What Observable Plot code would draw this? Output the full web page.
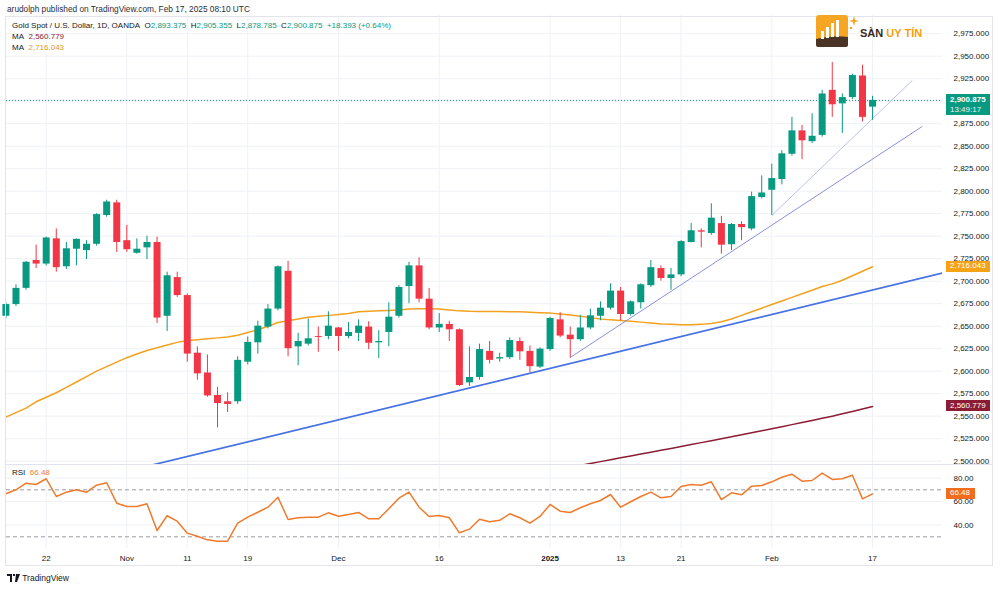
<!DOCTYPE html>
<html><head><meta charset="utf-8">
<script src="https://cdn.jsdelivr.net/npm/d3@7"></script>
<script src="https://cdn.jsdelivr.net/npm/@observablehq/plot@0.6"></script>
<style>
body{margin:0;background:#fff;font-family:"Liberation Sans",Arial,sans-serif;}
#wrap{position:relative;width:1000px;height:590px;overflow:hidden;background:#fff;}
.abs{position:absolute;white-space:nowrap;line-height:1;}
</style></head><body><div id="wrap"></div>
<script>
// ---------- DATA ----------
const dates = ["Oct 16","Oct 17","Oct 18","Oct 21","Oct 22","Oct 23","Oct 24","Oct 25","Oct 28","Oct 29","Oct 30","Oct 31","Nov 1","Nov 4","Nov 5","Nov 6","Nov 7","Nov 8","Nov 11","Nov 12","Nov 13","Nov 14","Nov 15","Nov 18","Nov 19","Nov 20","Nov 21","Nov 22","Nov 25","Nov 26","Nov 27","Nov 28","Nov 29","Dec 2","Dec 3","Dec 4","Dec 5","Dec 6","Dec 9","Dec 10","Dec 11","Dec 12","Dec 13","Dec 16","Dec 17","Dec 18","Dec 19","Dec 20","Dec 23","Dec 24","Dec 26","Dec 27","Dec 30","Dec 31","Jan 2","Jan 3","Jan 6","Jan 7","Jan 8","Jan 9","Jan 10","Jan 13","Jan 14","Jan 15","Jan 16","Jan 17","Jan 20","Jan 21","Jan 22","Jan 23","Jan 24","Jan 27","Jan 28","Jan 29","Jan 30","Jan 31","Feb 3","Feb 4","Feb 5","Feb 6","Feb 7","Feb 10","Feb 11","Feb 12","Feb 13","Feb 14","Feb 17"];
const open = [2661,2674,2692,2723,2719,2747,2716,2735.5,2734,2741,
  2773,2787,2745,2731,2737,2743,2661,2704,2684,2620,
  2598,2573,2566,2566,2610,2631.5,2649,2669,2711,2627,
  2630,2638.5,2638.5,2648,2638.5,2642,2649,2631.5,2643,2661,
  2694,2717,2680,2648,2652,2646,2587,2593,2622,2613.5,
  2615,2633,2622,2604.5,2624,2657,2640,2635,2648,2661,
  2670,2689,2663,2676,2695,2714,2703,2707,2743,2756,
  2753,2764,2740.5,2763,2758,2793,2801,2813,2841,2867,
  2855,2862,2912,2897,2904,2928,2893.375];
const high = [2676,2696,2722,2740,2749,2758,2743,2747,2745,2775,
  2790,2790,2762,2747,2750,2749,2710,2710,2686,2627,
  2618,2582,2576,2616,2638,2655.5,2674,2717,2722,2642,
  2658,2649,2666,2648.5,2654,2657,2655,2645,2676,2695,
  2721,2726,2692,2664,2655.5,2647,2627,2630,2633,2620,
  2637,2637,2628,2626,2660,2665,2649,2662,2669,2677,
  2697,2693,2678,2697,2723,2717,2714,2745,2764,2758,
  2786,2772,2764,2766,2799,2817,2830,2845,2882,2873,
  2886,2912,2943,2908,2930,2940,2905.355];
const low = [2658,2672,2690,2714,2717,2710,2713,2717,2724,2739,
  2771,2732,2732,2730,2724,2653,2644,2682,2610,2590,
  2571,2537,2554,2563,2607,2619,2647,2667,2616,2606,
  2628,2621,2635,2622,2636,2633,2624,2614,2627,2659,
  2675,2676,2646,2643,2633,2583,2583,2590,2608,2610,
  2613,2612,2598,2603,2622,2637,2615,2633,2646,2656,
  2668,2656,2661,2669,2693,2700,2690,2705,2742.5,2737,
  2751,2730,2734,2745,2756,2791.5,2773,2807,2839,2835,
  2853,2860,2882,2864,2902,2877,2878.785];
const close = [2674,2692,2721,2719,2748,2715,2736,2746.5,2741,2774,
  2788,2743,2735,2735.5,2743,2659,2706,2684,2619,2597,
  2572.5,2564,2563,2612,2632,2650,2669,2716,2625,2633,
  2636,2637.5,2650,2638.5,2643,2650,2631,2633,2660,2693,
  2717,2680,2648,2652,2646,2584,2593,2624,2612,2615,
  2634,2621.5,2605,2624.5,2658.5,2639,2635,2648,2661.5,2670,
  2689,2663,2677,2696,2715,2703,2707,2744,2756,2754.5,
  2770,2740,2763,2759.5,2794,2798,2814,2841.5,2867,2856,
  2861,2908,2896,2904,2928.5,2882,2900.875];
// MA (orange, 2,716.043 at the end), one value per bar
const maOrange = [2549,2554,2559,2566,2571,2576,2582,2588,2594,2600,
  2605,2610,2615,2619,2623,2626,2629,2632,2634,2635,
  2636,2637,2638,2640,2643,2646,2650,2654,2656,2658,
  2660,2661,2662,2663,2664,2666,2666.5,2667,2667.5,2668,
  2669,2669.3,2669.3,2669,2668,2667,2666.5,2666.3,2666.3,2666.2,
  2666,2666,2665.5,2665,2664.5,2663.5,2662.5,2661,2659.5,2658,
  2657,2656.3,2655.5,2654.5,2653.5,2652.5,2652,2651.5,2651.5,2652,
  2653,2655,2658,2662,2666,2670,2674,2678,2682,2686,
  2690,2694,2697,2701,2706,2711,2716.043];
// MA (dark red, 2,560.779 at the end), bars from "Jan 3" on
const maRedFrom = "Jan 3";
const maRed = [2491.0,2493.2,2495.3,2497.4,2499.5,2501.6,2503.7,2505.8,2507.9,2510.0,
  2512.1,2514.2,2516.3,2518.4,2520.6,2522.8,2525.0,2527.2,2529.4,2531.6,
  2533.8,2536.0,2538.3,2540.6,2542.9,2545.2,2547.6,2550.0,2552.6,2555.2,
  2558.0,2560.779];
const rsi = [66.6,70,75.6,74.5,79.4,64.3,68,70,68,73.9,
  76,58.6,55.8,55.8,58.1,35.4,47.9,43.3,33.1,30.5,
  27.4,26.3,26.3,41.6,46.7,50.9,55.2,63.7,44.7,46.2,
  46.7,46.7,50.4,47.5,49,50.7,45.3,45.3,53.8,62.9,
  68,55.2,47.3,48.1,46.2,33.4,36.5,45,42.8,44,
  49.6,46.2,41.6,47.3,57.5,51.8,50.7,54.7,58.1,60.9,
  66,55.2,59.8,64.3,68,63.2,64.3,72.8,74.5,73.9,
  76.8,61.7,67.4,65.7,73.1,73.7,76.8,80.7,83.3,77.3,
  77.9,84.1,78.8,79.4,82.4,62.3,66.48];
// drawn trend lines: start / end in bar-index and price
const trendX1 = [14.5, 55.96, 76.0];
const trendY1 = [2495.7, 2614.9, 2773];
const trendX2 = [93.2, 90.93, 89.94];
const trendY2 = [2709.8, 2871.9, 2923];
const priceTicks = [2500,2525,2550,2575,2600,2625,2650,2675,2700,2725,2750,2775,2800,2825,2850,2875,2900,2925,2950,2975];
const priceLabelHidden = [2900]; // covered by the last-price tag
const rsiTicks = [40,60,80];
const rsiBands = [30,70];
const timeTickDates = ["Oct 22","Nov 1","Nov 11","Nov 19","Dec 2","Dec 16","Jan 2","Jan 13","Jan 21","Feb 3","Feb 17"];
const timeTickLabels = ["22","Nov","11","19","Dec","16","2025","13","21","Feb","17"];
const lastTime = "13:49:17";

// ---------- BUILD ----------
const GREEN = "#089981", RED = "#f23645", ORANGE = "#f2a11f", MAROON = "#8c1c33", RSIC = "#f07a2c";
const FONT = "'Liberation Sans', Arial, sans-serif";
const bars = dates.map((d, i) => ({i, d, o: open[i], h: high[i], l: low[i], c: close[i], up: close[i] >= open[i]}));
const maORows = maOrange.map((v, i) => ({i, v}));
const r0 = dates.indexOf(maRedFrom);
const maRRows = maRed.map((v, k) => ({i: r0 + k, v}));
const rsiRows = rsi.map((v, i) => ({i, v}));
const trends = trendX1.map((x, k) => ({k, x1: x, y1: trendY1[k], x2: trendX2[k], y2: trendY2[k]}));
const trendStroke = ["#4571e3", "#8a8fdc", "#bcc0f0"];
const trendWidth = [1.7, 1, 1];
const tickIdx = timeTickDates.map(d => dates.indexOf(d));
const xDomain = [0.06, 92.94];
const last = bars[bars.length - 1];
const GRID = "#eff1f5";

const wrap = document.getElementById("wrap");

const main = Plot.plot({
  width: 1000, height: 449,
  marginLeft: 6, marginRight: 58, marginTop: 0, marginBottom: 0,
  x: {type: "linear", domain: xDomain, axis: null, label: null},
  y: {domain: [2496.3, 2995.2], axis: null, label: null},
  style: {background: "transparent", fontFamily: FONT, fontSize: "8px", color: "#131722", overflow: "visible"},
  marks: [
    Plot.gridY(priceTicks, {stroke: GRID, strokeOpacity: 1}),
    Plot.gridX(tickIdx, {stroke: GRID, strokeOpacity: 1}),
    Plot.axisY(priceTicks.filter(t => !priceLabelHidden.includes(t)), {anchor: "right", label: null, tickSize: 0, tickPadding: 11, tickFormat: d3.format(",.3f"), fill: "#131722", fontSize: 8}),
    Plot.ruleY([last.c], {stroke: GREEN, strokeDasharray: "1,2", strokeWidth: 1}),
    Plot.line(maRRows, {x: "i", y: "v", stroke: MAROON, strokeWidth: 1.5, clip: true}),
    Plot.line(maORows, {x: "i", y: "v", stroke: ORANGE, strokeWidth: 1.5, clip: true}),
    Plot.link(trends, {x1: "x1", y1: "y1", x2: "x2", y2: "y2", stroke: d => trendStroke[d.k], strokeWidth: d => trendWidth[d.k], clip: true}),
    Plot.ruleX(bars, {x: "i", y1: "l", y2: "h", stroke: d => d.up ? GREEN : RED, strokeWidth: 1}),
    Plot.ruleX(bars, {x: "i", y1: "o", y2: "c", stroke: d => d.up ? GREEN : RED, strokeWidth: 7})
  ]
});
Object.assign(main.style, {position: "absolute", left: "0px", top: "15px"});
wrap.appendChild(main);

const rsiPlot = Plot.plot({
  width: 1000, height: 102,
  marginLeft: 6, marginRight: 58, marginTop: 0, marginBottom: 18,
  x: {type: "linear", domain: xDomain, axis: null, label: null},
  y: {domain: [20.04, 91.53], axis: null, label: null},
  style: {background: "transparent", fontFamily: FONT, fontSize: "8px", color: "#131722", overflow: "visible"},
  marks: [
    Plot.gridY(rsiTicks, {stroke: GRID, strokeOpacity: 1}),
    Plot.gridX(tickIdx, {stroke: GRID, strokeOpacity: 1}),
    Plot.axisY(rsiTicks, {anchor: "right", label: null, tickSize: 0, tickPadding: 11, tickFormat: d3.format(".2f"), fill: "#131722", fontSize: 8}),
    Plot.ruleY(rsiBands, {stroke: "#9a9ca4", strokeDasharray: "4,3", strokeWidth: 1}),
    Plot.line(rsiRows, {x: "i", y: "v", stroke: RSIC, strokeWidth: 1.5}),
    Plot.axisX(tickIdx, {anchor: "bottom", label: null, tickSize: 0, tickPadding: 7, fill: "#131722", fontSize: 8,
      tickFormat: d => timeTickLabels[tickIdx.indexOf(d)]})
  ]
});
Object.assign(rsiPlot.style, {position: "absolute", left: "0px", top: "464px"});
wrap.appendChild(rsiPlot);
d3.select(rsiPlot).selectAll("text").filter(function(){ return this.textContent === "2025"; }).attr("font-weight", "bold");

// ---------- OVERLAYS ----------
function addDiv(html, css) {
  const d = document.createElement("div");
  d.className = "abs"; d.innerHTML = html;
  Object.assign(d.style, {fontFamily: FONT, fontSize: "8px", color: "#131722"}, css);
  wrap.appendChild(d); return d;
}
// frame and separators
addDiv("", {left: "5px", top: "16px", width: "988px", height: "550px", border: "1px solid #e3e5ea", boxSizing: "border-box"});
addDiv("", {left: "6px", top: "464px", width: "987px", height: "1px", background: "#e0e3eb"});

const fmt3 = d3.format(",.3f");
addDiv("arudolph published on TradingView.com, Feb 17, 2025 08:10 UTC", {left: "7px", top: "5px", fontSize: "8.3px", color: "#2a2e39"});
addDiv(`Gold Spot / U.S. Dollar, 1D, OANDA&nbsp; O<span style="color:${GREEN}">${fmt3(last.o)}</span>&nbsp; H<span style="color:${GREEN}">${fmt3(last.h)}</span>&nbsp; L<span style="color:${GREEN}">${fmt3(last.l)}</span>&nbsp; C<span style="color:${GREEN}">${fmt3(last.c)}</span>&nbsp; <span style="color:${GREEN}">+18.393 (+0.64%)</span>`,
  {left: "12px", top: "22px"});
addDiv(`MA&nbsp; <span style="color:${MAROON}">${fmt3(maRed[maRed.length - 1])}</span>`, {left: "12px", top: "33px"});
addDiv(`MA&nbsp; <span style="color:#e59a10">${fmt3(maOrange[maOrange.length - 1])}</span>`, {left: "12px", top: "44px"});
addDiv(`RSI&nbsp; <span style="color:${RSIC}">${d3.format(".2f")(rsi[rsi.length - 1])}</span>`, {left: "12px", top: "469px"});

const ym = v => main.scale("y").apply(v) + 15;
const yr = v => rsiPlot.scale("y").apply(v) + 464;
const yc = ym(last.c);
addDiv(`<div style="font-weight:bold">${fmt3(last.c)}</div><div style="margin-top:2px;opacity:.9">${lastTime}</div>`,
  {left: "946px", top: (yc - 6) + "px", width: "44px", height: "21px", background: GREEN, color: "#fff", padding: "2px 0 0 4px", boxSizing: "border-box"});
const yo = ym(maOrange[maOrange.length - 1]);
addDiv(fmt3(maOrange[maOrange.length - 1]), {left: "946px", top: (yo - 5.5) + "px", width: "44px", height: "11px", background: "#f5a316", color: "#fff", padding: "1.5px 0 0 4px", boxSizing: "border-box"});
const yrd = ym(maRed[maRed.length - 1]);
addDiv(fmt3(maRed[maRed.length - 1]), {left: "946px", top: (yrd - 5.5) + "px", width: "44px", height: "11px", background: MAROON, color: "#fff", padding: "1.5px 0 0 4px", boxSizing: "border-box"});
const yrs = yr(rsi[rsi.length - 1]);
addDiv(d3.format(".2f")(rsi[rsi.length - 1]), {left: "946px", top: (yrs - 5.5) + "px", width: "29px", height: "11px", background: "#f26c1e", color: "#fff", padding: "1.5px 0 0 4px", boxSizing: "border-box"});

// TradingView footer mark
addDiv(`<svg width="13" height="8" viewBox="0 0 13 8" style="vertical-align:-1px"><path d="M0 0h5v8H3V2H0z M6 0h2v2H6z M9 0h4l-3 8H8z" fill="#131722"/></svg> TradingView`, {left: "7px", top: "574px", fontSize: "8.5px"});

// SÀN UY TÍN logo
addDiv(`<svg width="46" height="34" viewBox="0 0 46 34">
  <rect x="1" y="1" width="32" height="30" rx="3" fill="#f6a623"/>
  <path d="M1 25 Q17 21 33 23 L33 31 Q33 33 31 33 L3 33 Q1 33 1 31Z" fill="#4a3426"/>
  <rect x="6" y="17" width="3" height="8" fill="#fff"/><rect x="11" y="13" width="3" height="11" fill="#fff"/>
  <rect x="16" y="9" width="3" height="14" fill="#fff"/><rect x="21" y="6" width="3" height="17" fill="#fff"/>
  <path d="M39 2 L40.2 6 L44 7 L40.2 8 L39 12 L37.8 8 L34 7 L37.8 6Z" fill="#f6a623"/>
  <circle cx="36" cy="14" r="1.3" fill="#f6a623"/>
</svg>`, {left: "815px", top: "14px"});
addDiv(`<span style="color:#3b2a20">SÀN</span> <span style="color:#f5a00f">UY TÍN</span>`, {left: "860px", top: "28px", fontSize: "11px", fontWeight: "bold"});
</script></body></html>
